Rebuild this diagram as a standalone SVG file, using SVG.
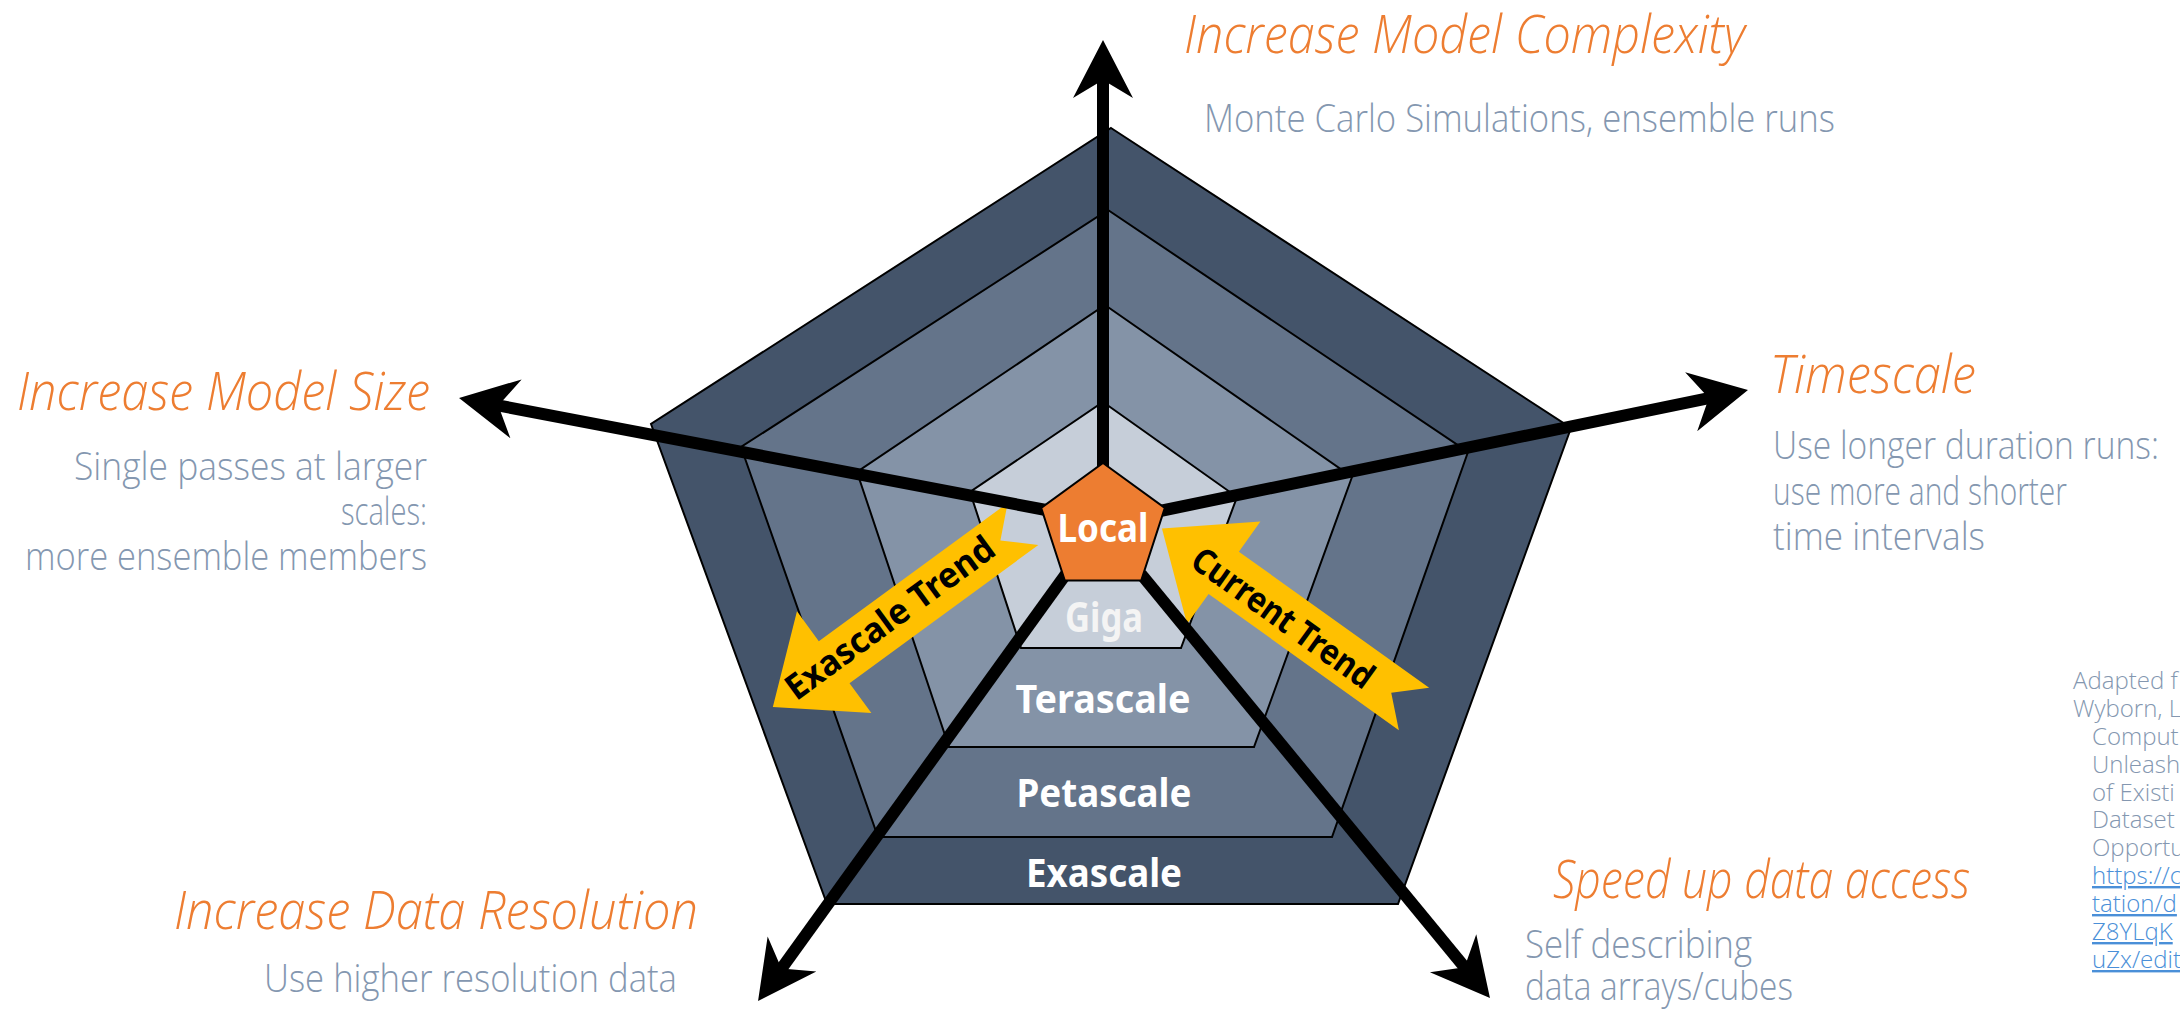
<svg xmlns="http://www.w3.org/2000/svg" width="2180" height="1012" viewBox="0 0 2180 1012">
<defs>
<marker id="ah" viewBox="-30 -32 62 64" refX="0" refY="0" markerWidth="62" markerHeight="64" markerUnits="userSpaceOnUse" orient="auto">
<path d="M30,0 L-28,-30 L-10,0 L-28,30 Z" fill="#000"/>
</marker>
<path id="trend" d="M0,-26 L234,-26 L234,-63 L310,0 L234,63 L234,26 L0,26 L28,0 Z" fill="#ffc000"/>
</defs>
<style>
.ring{stroke:#000;stroke-width:2;stroke-linejoin:miter}
.band{font-family:"Noto Sans","Open Sans",sans-serif;font-weight:700;font-size:40px;fill:#fff;text-anchor:middle}
.title{font-family:"Open Sans","Noto Sans",sans-serif;font-style:italic;font-weight:300;font-size:54px;fill:#ed7d31}
.desc{font-family:"Open Sans","Noto Sans",sans-serif;font-weight:300;font-size:38px;fill:#8497b0}
.cite{font-family:"Open Sans","Noto Sans",sans-serif;font-weight:300;font-size:24px;fill:#8497b0}
.link{fill:#4a8fd8;text-decoration:underline}
.conn{stroke:#000;stroke-width:12;fill:none;marker-end:url(#ah)}
.trendtxt{font-family:"Noto Sans","Open Sans",sans-serif;font-weight:700;font-size:35px;fill:#000;text-anchor:middle}
</style>
<rect width="2180" height="1012" fill="#fff"/>

<g id="ring-exascale"><path class="ring" d="M1111,128 L1571,428 L1398,904 L827,904 L651,424 Z" fill="#44546a"/></g>
<g id="ring-petascale"><path class="ring" d="M1108,210 L1468,452 L1332,837 L878,837 L741,447 Z" fill="#64748a"/></g>
<g id="ring-terascale"><path class="ring" d="M1105,305 L1352,477 L1254,747 L949,747 L857,472 Z" fill="#8493a7"/></g>
<g id="ring-giga"><path class="ring" d="M1103,402 L1237,497 L1181,648 L1021,648 L970,492 Z" fill="#c6ced9"/></g>

<g id="band-labels">
<text class="band" x="1104" y="632" style="fill:#f4f4f4;font-size:42px" textLength="78" lengthAdjust="spacingAndGlyphs">Giga</text>
<text class="band" x="1103" y="713" textLength="175" lengthAdjust="spacingAndGlyphs">Terascale</text>
<text class="band" x="1104" y="807" textLength="175" lengthAdjust="spacingAndGlyphs">Petascale</text>
<text class="band" x="1104" y="887" textLength="156" lengthAdjust="spacingAndGlyphs">Exascale</text>
</g>

<g id="exascale-trend">
<use href="#trend" transform="translate(1023,524) rotate(143.8)"/>
<text class="trendtxt" transform="translate(890,618) rotate(-36.2)" x="0" y="12" textLength="250" lengthAdjust="spacingAndGlyphs">Exascale Trend</text>
</g>
<g id="current-trend">
<use href="#trend" transform="translate(1414,709) rotate(-144.4)"/>
<text class="trendtxt" transform="translate(1283,618) rotate(35.6)" x="0" y="12" textLength="215" lengthAdjust="spacingAndGlyphs">Current Trend</text>
</g>

<g id="connectors">
<line class="conn" x1="1103" y1="470" x2="1103" y2="70"/>
<line class="conn" x1="1046" y1="510" x2="488.5" y2="403.6"/>
<line class="conn" x1="1160" y1="511" x2="1718.6" y2="396.1"/>
<line class="conn" x1="1066" y1="574" x2="775.6" y2="976.7"/>
<line class="conn" x1="1141" y1="574" x2="1470.9" y2="974.9"/>
</g>

<g id="local">
<path d="M1103,463 L1164.8,507.9 L1141.2,580.6 L1064.8,580.6 L1041.2,507.9 Z" fill="#ed7d31" stroke="#000" stroke-width="2"/>
<text class="band" x="1103" y="542" textLength="91" lengthAdjust="spacingAndGlyphs">Local</text>
</g>

<g id="complexity">
<text class="title" x="1184" y="53" textLength="561" lengthAdjust="spacingAndGlyphs">Increase Model Complexity</text>
<text class="desc" x="1204" y="132" textLength="631" lengthAdjust="spacingAndGlyphs">Monte Carlo Simulations, ensemble runs</text>
</g>

<g id="timescale">
<text class="title" x="1770" y="393" textLength="206" lengthAdjust="spacingAndGlyphs">Timescale</text>
<text class="desc" x="1773" y="459" textLength="386" lengthAdjust="spacingAndGlyphs">Use longer duration runs:</text>
<text class="desc" x="1773" y="505" textLength="294" lengthAdjust="spacingAndGlyphs">use more and shorter</text>
<text class="desc" x="1773" y="550" textLength="212" lengthAdjust="spacingAndGlyphs">time intervals</text>
</g>

<g id="model-size">
<text class="title" x="17" y="410" textLength="413" lengthAdjust="spacingAndGlyphs">Increase Model Size</text>
<text class="desc" x="427" y="480" text-anchor="end" textLength="353" lengthAdjust="spacingAndGlyphs">Single passes at larger</text>
<text class="desc" x="427" y="525" text-anchor="end" textLength="86" lengthAdjust="spacingAndGlyphs">scales:</text>
<text class="desc" x="427" y="570" text-anchor="end" textLength="402" lengthAdjust="spacingAndGlyphs">more ensemble members</text>
</g>

<g id="resolution">
<text class="title" x="174" y="929" textLength="524" lengthAdjust="spacingAndGlyphs">Increase Data Resolution</text>
<text class="desc" x="264" y="992" textLength="413" lengthAdjust="spacingAndGlyphs">Use higher resolution data</text>
</g>

<g id="data-access">
<text class="title" x="1553" y="898" textLength="417" lengthAdjust="spacingAndGlyphs">Speed up data access</text>
<text class="desc" x="1525" y="958" textLength="227" lengthAdjust="spacingAndGlyphs">Self describing</text>
<text class="desc" x="1525" y="1000" textLength="268" lengthAdjust="spacingAndGlyphs">data arrays/cubes</text>
</g>

<g id="citation">
<text class="cite" x="2073" y="689">Adapted f</text>
<text class="cite" x="2073" y="717">Wyborn, L</text>
<text class="cite" x="2092" y="745">Comput</text>
<text class="cite" x="2092" y="773">Unleash</text>
<text class="cite" x="2092" y="801">of Existi</text>
<text class="cite" x="2092" y="828">Dataset</text>
<text class="cite" x="2092" y="856">Opportu</text>
<text class="cite link" x="2092" y="884">https://c</text>
<text class="cite link" x="2092" y="912">tation/d</text>
<text class="cite link" x="2092" y="940">Z8YLqK</text>
<text class="cite link" x="2092" y="968">uZx/edit</text>
</g>
</svg>
